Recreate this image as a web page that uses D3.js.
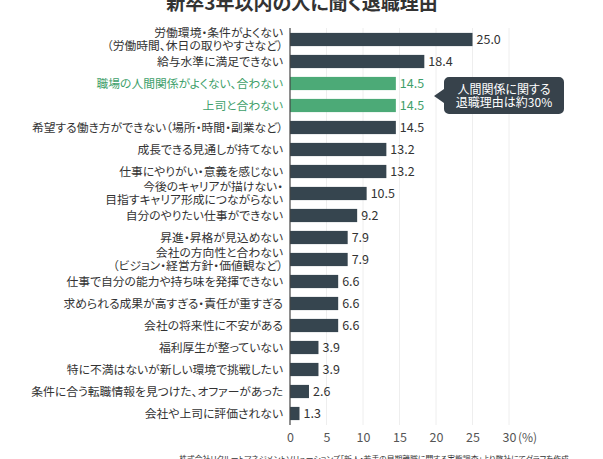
<!DOCTYPE html>
<html>
<head>
<meta charset="utf-8">
<script src="https://cdn.jsdelivr.net/npm/d3@7"></script>
<style>
  body { margin: 0; background: #fff; }
  svg text { font-family: "Noto Sans CJK JP", "Noto Sans", sans-serif; font-feature-settings: "palt"; }
</style>
</head>
<body>
<svg id="chart" width="603" height="459"></svg>
<script>
// reasons, top to bottom
const reasons = [
  "労働環境・条件がよくない\n（労働時間、休日の取りやすさなど）",
  "給与水準に満足できない",
  "職場の人間関係がよくない、合わない",
  "上司と合わない",
  "希望する働き方ができない（場所・時間・副業など）",
  "成長できる見通しが持てない",
  "仕事にやりがい・意義を感じない",
  "今後のキャリアが描けない・\n目指すキャリア形成につながらない",
  "自分のやりたい仕事ができない",
  "昇進・昇格が見込めない",
  "会社の方向性と合わない\n（ビジョン・経営方針・価値観など）",
  "仕事で自分の能力や持ち味を発揮できない",
  "求められる成果が高すぎる・責任が重すぎる",
  "会社の将来性に不安がある",
  "福利厚生が整っていない",
  "特に不満はないが新しい環境で挑戦したい",
  "条件に合う転職情報を見つけた、オファーがあった",
  "会社や上司に評価されない"
]
const percents = [25.0, 18.4, 14.5, 14.5, 14.5, 13.2, 13.2, 10.5, 9.2, 7.9, 7.9, 6.6, 6.6, 6.6, 3.9, 3.9, 2.6, 1.3]
// the two human-relations reasons are highlighted
const highlighted = [2, 3]
const xTicks = [0, 5, 10, 15, 20, 25, 30]

const title = "新卒3年以内の人に聞く退職理由"
const calloutLines = ["人間関係に関する", "退職理由は約30%"]
const source = "株式会社リクルートマネジメントソリューションズ「新人・若手の早期離職に関する実態調査」より弊社にてグラフを作成"

const dark = "#36454f"
const green = "#4caa77"
const greenText = "#3f9f6b"

let svg = d3.select('#chart')
let data = percents.map(function(v, i){ return { i: i, label: reasons[i], value: v, hi: highlighted.includes(i) }})

let x = d3.scaleLinear().domain([0, 30]).range([290, 509])
let y = d3.scaleBand()
  .domain(data.map(function (d) { return d.i }))
  .range([28.5, 424.5])
  .paddingInner(0.4)
  .paddingOuter(0.2)

/* -------------- title -------------- */
svg.append("text")
  .attr("x", 302)
  .attr("y", 10)
  .attr("text-anchor", "middle")
  .attr("font-size", 19)
  .attr("font-weight", "bold")
  .attr("fill", "#333")
  .text(title)

/* -------------- grid + axis -------------- */
svg.append("g")
  .selectAll("line")
  .data(xTicks.slice(1))
  .enter().append("line")
  .attr("x1", function (d) { return x(d) })
  .attr("x2", function (d) { return x(d) })
  .attr("y1", 28)
  .attr("y2", 425)
  .attr("stroke", "#eeeeee")
  .attr("stroke-width", 1)

let xAxis = svg.append("g")
  .attr("transform", "translate(0,425)")
  .call(d3.axisBottom(x).tickValues(xTicks).tickSize(0).tickPadding(8))
xAxis.select(".domain").remove()
xAxis.selectAll("text")
  .attr("font-size", 12.5)
  .attr("fill", "#555")
  .style("font-family", '"Noto Sans CJK JP", sans-serif')

svg.append("text")
  .attr("x", x(30) + 9)
  .attr("y", 442)
  .attr("font-size", 12)
  .attr("fill", "#555")
  .text("(%)")

/* -------------- bars -------------- */
svg.selectAll(".bar")
  .data(data)
  .enter().append("rect")
  .attr("class", "bar")
  .attr("x", x(0))
  .attr("y", function (d) { return y(d.i) })
  .attr("width", function (d) { return x(d.value) - x(0) })
  .attr("height", y.bandwidth())
  .attr("fill", function (d) { return d.hi ? green : dark })

svg.append("line")
  .attr("x1", x(0)).attr("x2", x(0))
  .attr("y1", 28).attr("y2", 425)
  .attr("stroke", "#444")
  .attr("stroke-width", 1.2)

svg.selectAll(".val")
  .data(data)
  .enter().append("text")
  .attr("class", "val")
  .attr("x", function (d) { return x(d.value) + 4 })
  .attr("y", function (d) { return y(d.i) + y.bandwidth() / 2 })
  .attr("dy", "0.36em")
  .attr("font-size", 12.5)
  .attr("fill", function (d) { return d.hi ? greenText : "#333" })
  .text(function (d) { return d.value.toFixed(1) })

/* -------------- category labels -------------- */
let labels = svg.selectAll(".cat")
  .data(data)
  .enter().append("text")
  .attr("class", "cat")
  .attr("text-anchor", "end")
  .attr("font-size", 11.8)
  .attr("fill", function (d) { return d.hi ? greenText : "#333" })

labels.each(function (d) {
  let lines = d.label.split("\n")
  let cy = y(d.i) + y.bandwidth() / 2
  let lh = 12.5
  let t = d3.select(this)
  lines.forEach(function (ln, k) {
    t.append("tspan")
      .attr("x", 283)
      .attr("y", cy + (k - (lines.length - 1) / 2) * lh)
      .attr("dy", "0.36em")
      .text(ln)
  })
})

/* -------------- callout -------------- */
let bx = 444, by = 77, bw = 120, bh = 37, r = 5
let tipX = 434, tipY = 96
let p = d3.path()
p.moveTo(bx + r, by)
p.lineTo(bx + bw - r, by)
p.arcTo(bx + bw, by, bx + bw, by + r, r)
p.lineTo(bx + bw, by + bh - r)
p.arcTo(bx + bw, by + bh, bx + bw - r, by + bh, r)
p.lineTo(bx + r, by + bh)
p.arcTo(bx, by + bh, bx, by + bh - r, r)
p.lineTo(bx, tipY + 7)
p.lineTo(tipX, tipY)
p.lineTo(bx, tipY - 7)
p.lineTo(bx, by + r)
p.arcTo(bx, by, bx + r, by, r)
p.closePath()

svg.append("path")
  .attr("d", p.toString())
  .attr("fill", "#37424b")

svg.selectAll(".callout")
  .data(calloutLines)
  .enter().append("text")
  .attr("class", "callout")
  .attr("x", bx + bw / 2)
  .attr("y", function (d, k) { return by + 12.5 + k * 13 })
  .attr("dy", "0.36em")
  .attr("text-anchor", "middle")
  .attr("font-size", 12)
  .attr("fill", "#fff")
  .text(function (d) { return d })

/* -------------- source -------------- */
svg.append("text")
  .attr("x", 374)
  .attr("y", 462)
  .attr("text-anchor", "middle")
  .attr("font-size", 7.8)
  .attr("fill", "#333")
  .text(source)
</script>
</body>
</html>
